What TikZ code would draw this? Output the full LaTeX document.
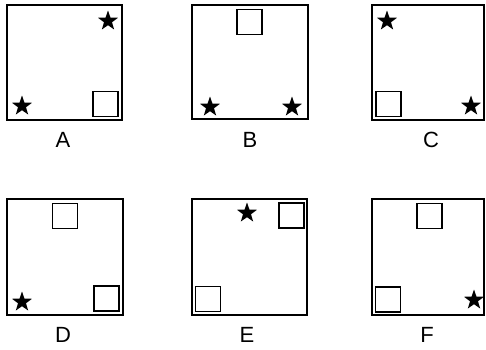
\documentclass[tikz,border=0pt]{standalone}
\usepackage{fontspec}
\setmainfont{Liberation Sans}
\usetikzlibrary{shapes.geometric}
\tikzset{
  frame/.style={draw, line width=1.9pt, inner sep=0pt, outer sep=0pt},
  sq/.style={draw, line width=1.7pt, minimum size=25pt, inner sep=0pt, outer sep=0pt},
  starnode/.style={star, star points=5, star point ratio=2.5, minimum size=21pt, fill=black, inner sep=0pt},
  lab/.style={font=\fontsize{22}{22}\selectfont, inner sep=0pt}
}
\begin{document}
\begin{tikzpicture}[x=1pt,y=-1pt]
\useasboundingbox (0,0) rectangle (486,349);
% A
\node[frame, minimum width=115pt, minimum height=115pt] (fA) at (64.5,62.5) {};
\node[sq] (sA) at (105.5,104) {};
\node[starnode] (sA1) at (108,21) {};
\node[starnode] (sA2) at (22,106) {};
\node[lab] (lA) at (63,140) {A};
% B
\node[frame, minimum width=116pt, minimum height=114pt] (fB) at (250,62) {};
\node[sq] (sB) at (249.5,22) {};
\node[starnode] (sB1) at (210,107) {};
\node[starnode] (sB2) at (292,107) {};
\node[lab] (lB) at (250,140) {B};
% C
\node[frame, minimum width=112pt, minimum height=115pt] (fC) at (428,62.5) {};
\node[sq] (sC) at (388.5,104) {};
\node[starnode] (sC1) at (387,21) {};
\node[starnode] (sC2) at (471,106) {};
\node[lab] (lC) at (431,140) {C};
% D
\node[frame, minimum width=116pt, minimum height=116pt] (fD) at (65,257) {};
\node[sq] (sD1) at (65,216) {};
\node[sq] (sD2) at (106.5,298.5) {};
\node[starnode] (tD) at (22,302) {};
\node[lab] (lD) at (63,335) {D};
% E
\node[frame, minimum width=115pt, minimum height=116pt] (fE) at (249.5,257) {};
\node[sq] (sE1) at (291.5,215.5) {};
\node[sq] (sE2) at (208,299) {};
\node[starnode] (tE) at (247,213) {};
\node[lab] (lE) at (247,335) {E};
% F
\node[frame, minimum width=112pt, minimum height=116pt] (fF) at (428,257) {};
\node[sq] (sF1) at (429.5,216) {};
\node[sq] (sF2) at (388,299.5) {};
\node[starnode] (tF) at (474,300) {};
\node[lab] (lF) at (427,335) {F};
\end{tikzpicture}
\end{document}
